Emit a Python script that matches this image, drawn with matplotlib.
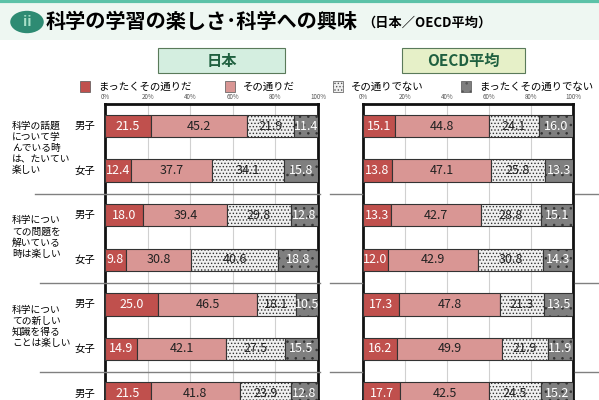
import matplotlib.pyplot as plt
from matplotlib.patches import Rectangle, Circle
from matplotlib.lines import Line2D

plt.rcParams['font.family'] = ['Noto Sans CJK JP', 'DejaVu Sans']
plt.rcParams['hatch.linewidth'] = 0.6

questions = ["科学の話題\nについて学\nんでいる時\nは、たいてい\n楽しい",
             "科学につい\nての問題を\n解いている\n時は楽しい",
             "科学につい\nての新しい\n知識を得る\nことは楽しい",
             ""]
genders = ["男子", "女子"] * 4
categories = ["まったくその通りだ", "その通りだ", "その通りでない", "まったくその通りでない"]
japan = [[21.5, 45.2, 21.9, 11.4], [12.4, 37.7, 34.1, 15.8],
         [18.0, 39.4, 29.8, 12.8], [9.8, 30.8, 40.6, 18.8],
         [25.0, 46.5, 18.1, 10.5], [14.9, 42.1, 27.5, 15.5],
         [21.5, 41.8, 23.9, 12.8]]
oecd = [[15.1, 44.8, 24.1, 16.0], [13.8, 47.1, 25.8, 13.3],
        [13.3, 42.7, 28.8, 15.1], [12.0, 42.9, 30.8, 14.3],
        [17.3, 47.8, 21.3, 13.5], [16.2, 49.9, 21.9, 11.9],
        [17.7, 42.5, 24.5, 15.2]]
ticks = [0, 20, 40, 60, 80, 100]

colors = ['#c0504d', '#d99694', '#f0f0f0', '#7f7f7f']
hatches = [None, None, '.....', '..']
txt_cols = ['white', '#222222', '#222222', 'white']

W, H = 599, 400
fig = plt.figure(figsize=(5.99, 4.0), dpi=100)
fig.patch.set_facecolor('#eef7f2')

def fx(px): return px / W
def fy(py): return 1 - py / H

# white content area
fig.patches.append(Rectangle((0, 0), 1, fy(40), transform=fig.transFigure,
                             facecolor='white', edgecolor='none', zorder=-5))
fig.lines.append(Line2D([0, 1], [fy(1), fy(1)], transform=fig.transFigure, color='#5cc2a8', lw=3))

# title
fig.patches.append(Circle((fx(27), fy(22)), 0.028, transform=fig.transFigure,
                          facecolor='#2e8b73', edgecolor='none'))
fig.text(fx(27), fy(22), "ii", color='#a8e0c8', ha='center', va='center', fontsize=10, weight='bold')
fig.text(fx(46), fy(22), "科学の学習の楽しさ･科学への興味", fontsize=14.5, weight='bold', va='center')
fig.text(fx(362), fy(23), "（日本／OECD平均）", fontsize=9.5, weight='bold', va='center')

# headers
for x0, x1, label, fc in [(158, 285, "日本", '#d4eee0'), (402, 525, "OECD平均", '#e6f0c8')]:
    fig.patches.append(Rectangle((fx(x0), fy(73)), fx(x1 - x0), fy(48) - fy(73),
                                 transform=fig.transFigure, facecolor=fc, edgecolor='#5a7a5a', lw=0.8))
    fig.text(fx((x0 + x1) / 2), fy(61), label, ha='center', va='center', fontsize=11,
             weight='bold', color='#1f6040')

# legend
for i, (lx, cat) in enumerate(zip([80, 225, 333, 461], categories)):
    fig.patches.append(Rectangle((fx(lx), fy(92)), fx(10), fy(81) - fy(92), transform=fig.transFigure,
                                 facecolor=colors[i], edgecolor='#555555', lw=0.5,
                                 hatch=hatches[i]))
    fig.text(fx(lx + 18), fy(86.5), cat, fontsize=7.5, va='center')

n = len(japan)
y0 = -(126 - 104) / 44.6
y1 = (400 - 126) / 44.6

def draw(ax, data):
    for r, row in enumerate(data):
        left = 0
        for k, v in enumerate(row):
            ax.barh(r, v, left=left, height=0.5, color=colors[k], edgecolor='#333333',
                    lw=0.8, hatch=hatches[k], zorder=3)
            ax.text(left + v / 2, r, f"{v:.1f}", ha='center', va='center', fontsize=9,
                    color=txt_cols[k], zorder=4)
            left += v
    ax.set_xlim(0, 100)
    ax.set_ylim(y1, y0)
    ax.set_yticks([])
    ax.set_xticks(ticks)
    ax.set_xticklabels([f"{t}%" for t in ticks], fontsize=4.5, color='#555555')
    ax.xaxis.tick_top()
    ax.tick_params(axis='x', length=0, pad=2)
    ax.grid(axis='x', color='#d0d0d0', lw=0.8, zorder=0)
    for s in ax.spines.values():
        s.set_linewidth(2)
        s.set_color('#111111')

ax1 = fig.add_axes([fx(105), 0, fx(318 - 105), fy(104)])
ax2 = fig.add_axes([fx(363), 0, fx(573 - 363), fy(104)])
draw(ax1, japan)
draw(ax2, oecd)

# row labels
for r in range(n):
    fig.text(fx(85), fy(126 + 44.6 * r), genders[r], ha='center', va='center', fontsize=7.5)
for g, q in enumerate(questions):
    if q:
        fig.text(fx(12), fy(148 + 89.2 * g), q, ha='left', va='center', fontsize=7,
                 linespacing=1.15, multialignment='left')

# group separators
for py, xs in [(194, 35), (283, 40), (372, 40)]:
    for a, b in [(xs, 320), (330, 362), (575, 599)]:
        fig.lines.append(Line2D([fx(a), fx(b)], [fy(py), fy(py)], transform=fig.transFigure,
                                color='#808080', lw=1))

fig.savefig("out.png", dpi=100, facecolor=fig.get_facecolor())
